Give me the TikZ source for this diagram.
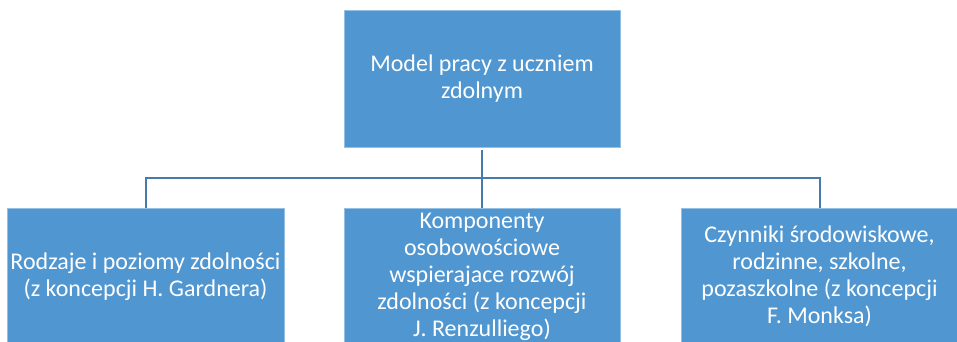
\documentclass[tikz,border=0pt]{standalone}
\usepackage{fontspec}
\setmainfont{Carlito}
\definecolor{boxfill}{RGB}{80,150,208}
\definecolor{linec}{RGB}{72,122,172}
\begin{document}
\begin{tikzpicture}[x=1pt,y=1pt,
  box/.style={rectangle, fill=boxfill, draw=boxfill!60!white, line width=0.6pt, text=white, align=center,
    inner sep=0pt, font=\fontsize{24}{27}\selectfont},
  conn/.style={draw=linec, line width=2pt}]
\useasboundingbox (0,0) rectangle (957,342);
\begin{scope}
\clip (0,0) rectangle (957,342);
\node[box, minimum width=276, minimum height=137] (top) at (482,263.5) {Model pracy z uczniem\\zdolnym};
\node[box, minimum width=277, minimum height=137] (left) at (145.5,65.5) {Rodzaje i poziomy zdolności\\(z koncepcji H. Gardnera)};
\node[box, minimum width=276, minimum height=137] (mid) at (482,65.5) {Komponenty\\osobowościowe\\wspierajace rozwój\\zdolności (z koncepcji\\J. Renzulliego)};
\node[box, minimum width=277, minimum height=137] (right) at (819.5,65.5) {Czynniki środowiskowe,\\rodzinne, szkolne,\\pozaszkolne (z koncepcji\\F. Monksa)};
\end{scope}
\coordinate (bus) at (482,164);
\draw[conn] ([yshift=-3pt]top.south) -- (mid.north);
\draw[conn] (left.north) -- (left.north |- bus) -- (right.north |- bus) -- (right.north);
\end{tikzpicture}
\end{document}
